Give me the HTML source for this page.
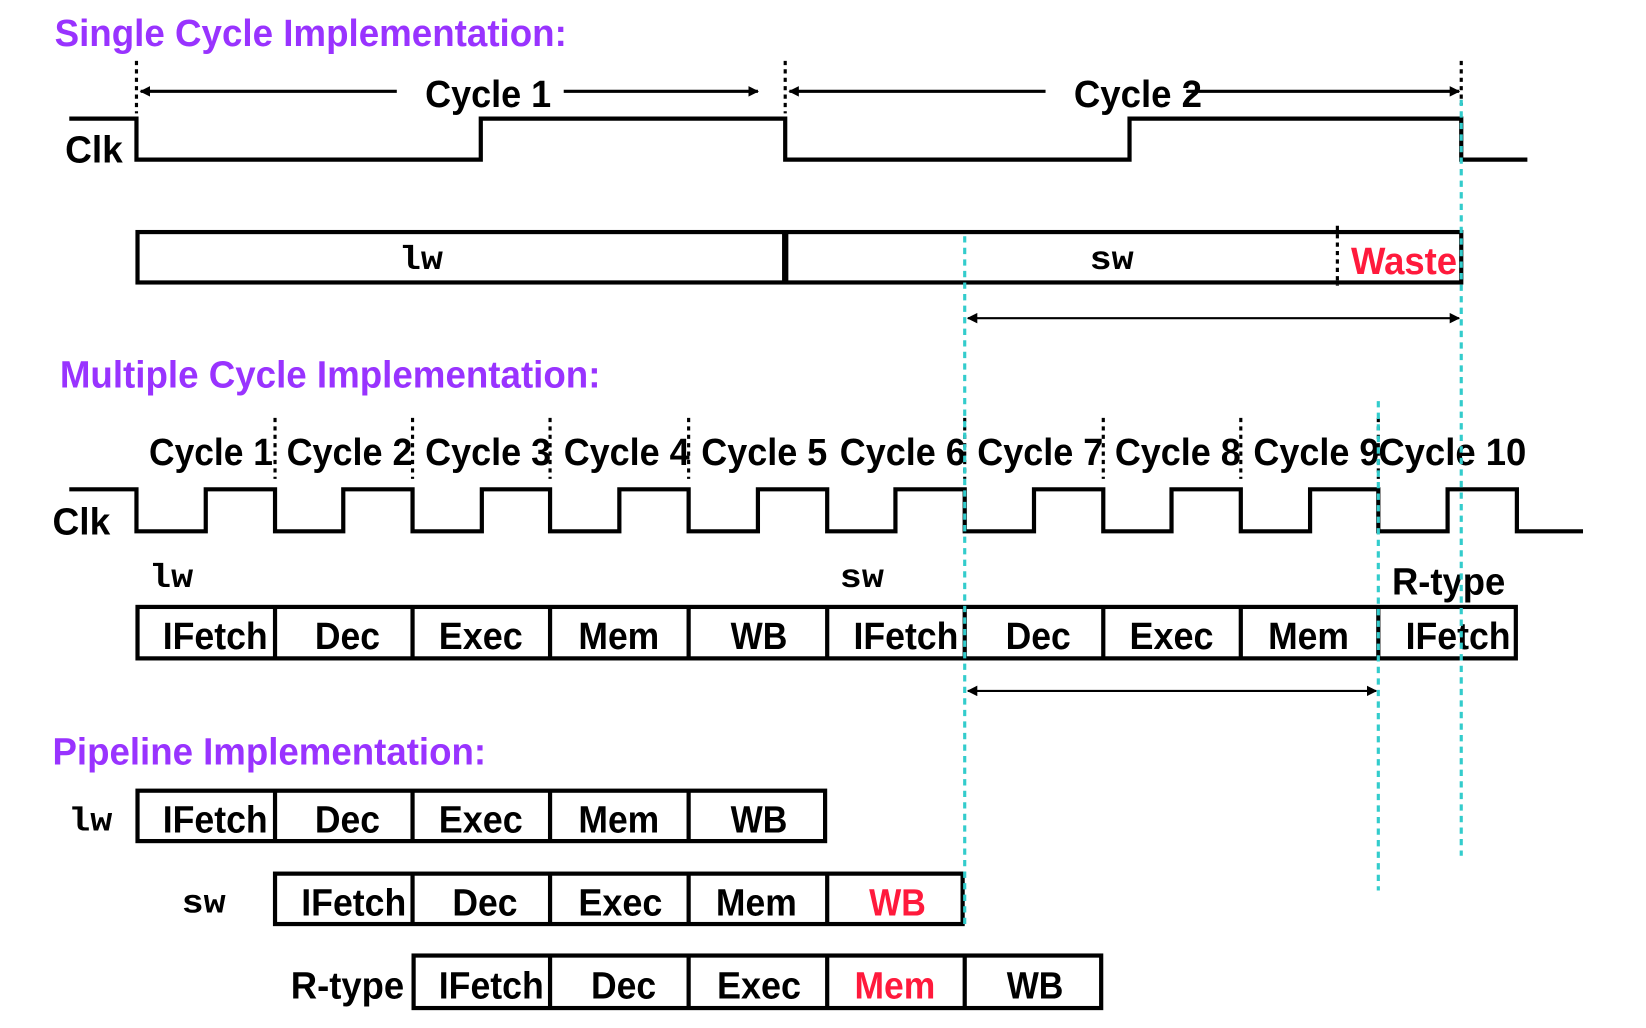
<!DOCTYPE html>
<html><head><meta charset="utf-8"><style>
html,body{margin:0;padding:0;background:#fff;}
svg{display:block;}
.t{font-family:"Liberation Sans",sans-serif;font-weight:bold;}
.m{font-family:"Liberation Mono",monospace;font-weight:bold;}
</style></head><body>
<svg width="1646" height="1028" viewBox="0 0 1568 979" preserveAspectRatio="none" xmlns="http://www.w3.org/2000/svg">
<defs>
<marker id="ah" markerWidth="10" markerHeight="10" refX="9" refY="5" orient="auto-start-reverse" markerUnits="userSpaceOnUse"><path d="M0,0 L10,5 L0,10 Z" fill="#000"/></marker>
</defs>
<g fill="#9933ff" class="t" font-size="36">
<text x="52" y="44" textLength="488" lengthAdjust="spacingAndGlyphs">Single Cycle Implementation:</text>
<text x="57" y="369" textLength="515" lengthAdjust="spacingAndGlyphs">Multiple Cycle Implementation:</text>
<text x="50" y="728" textLength="413" lengthAdjust="spacingAndGlyphs">Pipeline Implementation:</text>
</g>
<g stroke="#000" stroke-width="3" stroke-dasharray="4,4">
<line x1="130" y1="58" x2="130" y2="108"/><line x1="748" y1="58" x2="748" y2="108"/><line x1="1392" y1="58" x2="1392" y2="100"/>
</g>
<g stroke="#000" stroke-width="3">
<line x1="134" y1="87" x2="378" y2="87" marker-start="url(#ah)"/>
<line x1="537" y1="87" x2="722" y2="87" marker-end="url(#ah)"/>
<line x1="752" y1="87" x2="996" y2="87" marker-start="url(#ah)"/>
<line x1="1130" y1="87" x2="1390" y2="87" marker-end="url(#ah)"/>
</g>
<g class="t" font-size="36" fill="#000">
<text x="405" y="102" textLength="120" lengthAdjust="spacingAndGlyphs">Cycle 1</text>
<text x="1023" y="102" textLength="122" lengthAdjust="spacingAndGlyphs">Cycle 2</text>
<text x="62" y="155" textLength="55" lengthAdjust="spacingAndGlyphs">Clk</text>
</g>
<polyline fill="none" stroke="#000" stroke-width="4" points="66,113 130,113 130,152 458,152 458,113 748,113 748,152 1076,152 1076,113 1392,113 1392,152 1455,152"/>
<rect x="131" y="221" width="1261" height="48" fill="none" stroke="#000" stroke-width="4"/>
<line x1="748" y1="221" x2="748" y2="269" stroke="#000" stroke-width="6"/>
<line x1="1274" y1="215" x2="1274" y2="272" stroke="#000" stroke-width="3" stroke-dasharray="4,4"/>
<text class="m" x="380" y="256" font-size="32" textLength="42" lengthAdjust="spacingAndGlyphs">lw</text>
<text class="m" x="1038" y="256" font-size="32" textLength="42" lengthAdjust="spacingAndGlyphs">sw</text>
<text class="t" x="1287" y="261" font-size="36" fill="#ff1a3c" textLength="101" lengthAdjust="spacingAndGlyphs">Waste</text>
<line x1="922" y1="303" x2="1390" y2="303" stroke="#000" stroke-width="2" marker-start="url(#ah)" marker-end="url(#ah)"/>
<g class="t" font-size="36" fill="#000">
<text x="142" y="443" textLength="118" lengthAdjust="spacingAndGlyphs">Cycle 1</text>
<text x="273" y="443" textLength="120" lengthAdjust="spacingAndGlyphs">Cycle 2</text>
<text x="405" y="443" textLength="120" lengthAdjust="spacingAndGlyphs">Cycle 3</text>
<text x="537" y="443" textLength="120" lengthAdjust="spacingAndGlyphs">Cycle 4</text>
<text x="668" y="443" textLength="120" lengthAdjust="spacingAndGlyphs">Cycle 5</text>
<text x="800" y="443" textLength="120" lengthAdjust="spacingAndGlyphs">Cycle 6</text>
<text x="931" y="443" textLength="120" lengthAdjust="spacingAndGlyphs">Cycle 7</text>
<text x="1062" y="443" textLength="120" lengthAdjust="spacingAndGlyphs">Cycle 8</text>
<text x="1194" y="443" textLength="120" lengthAdjust="spacingAndGlyphs">Cycle 9</text>
<text x="1313" y="443" textLength="141" lengthAdjust="spacingAndGlyphs">Cycle 10</text>
<text x="50" y="509" textLength="55" lengthAdjust="spacingAndGlyphs">Clk</text>
<text x="1326" y="566" textLength="108" lengthAdjust="spacingAndGlyphs">R-type</text>
</g>
<g stroke="#000" stroke-width="3" stroke-dasharray="4,4">
<line x1="262" y1="398" x2="262" y2="456"/><line x1="393" y1="398" x2="393" y2="456"/><line x1="524" y1="398" x2="524" y2="456"/><line x1="656" y1="398" x2="656" y2="456"/><line x1="919" y1="398" x2="919" y2="456"/><line x1="1051" y1="398" x2="1051" y2="456"/><line x1="1182" y1="398" x2="1182" y2="456"/><line x1="1313" y1="398" x2="1313" y2="456"/>
</g>
<polyline fill="none" stroke="#000" stroke-width="4" points="66,466 130,466 130,506 196,506 196,466 262,466 262,506 327,506 327,466 393,466 393,506 459,506 459,466 524,466 524,506 590,506 590,466 656,466 656,506 722,506 722,466 788,466 788,506 853,506 853,466 919,466 919,506 985,506 985,466 1051,466 1051,506 1116,506 1116,466 1182,466 1182,506 1248,506 1248,466 1313,466 1313,506 1379,506 1379,466 1445,466 1445,506 1508,506"/>
<text class="m" x="142" y="559" font-size="32" textLength="42" lengthAdjust="spacingAndGlyphs">lw</text>
<text class="m" x="800" y="559" font-size="32" textLength="42" lengthAdjust="spacingAndGlyphs">sw</text>
<g fill="none" stroke="#000" stroke-width="4">
<rect x="131" y="578" width="1313" height="49"/>
<path d="M262,578V627M393,578V627M524,578V627M656,578V627M788,578V627M919,578V627M1051,578V627M1182,578V627M1313,578V627"/>
<rect x="131" y="753" width="655" height="48"/>
<path d="M262,753V801M393,753V801M524,753V801M656,753V801"/>
<rect x="262" y="832" width="655" height="48"/>
<path d="M393,832V880M524,832V880M656,832V880M788,832V880"/>
<rect x="394" y="910" width="655" height="50"/>
<path d="M524,910V960M656,910V960M788,910V960M919,910V960"/>
</g>
<g class="t" font-size="36" fill="#000">
<text x="155" y="618" textLength="100" lengthAdjust="spacingAndGlyphs">IFetch</text><text x="300" y="618" textLength="62" lengthAdjust="spacingAndGlyphs">Dec</text><text x="418" y="618" textLength="80" lengthAdjust="spacingAndGlyphs">Exec</text><text x="551" y="618" textLength="77" lengthAdjust="spacingAndGlyphs">Mem</text><text x="696" y="618" textLength="54" lengthAdjust="spacingAndGlyphs">WB</text><text x="813" y="618" textLength="100" lengthAdjust="spacingAndGlyphs">IFetch</text><text x="958" y="618" textLength="62" lengthAdjust="spacingAndGlyphs">Dec</text><text x="1076" y="618" textLength="80" lengthAdjust="spacingAndGlyphs">Exec</text><text x="1208" y="618" textLength="77" lengthAdjust="spacingAndGlyphs">Mem</text><text x="1339" y="618" textLength="100" lengthAdjust="spacingAndGlyphs">IFetch</text>
<text x="155" y="793" textLength="100" lengthAdjust="spacingAndGlyphs">IFetch</text><text x="300" y="793" textLength="62" lengthAdjust="spacingAndGlyphs">Dec</text><text x="418" y="793" textLength="80" lengthAdjust="spacingAndGlyphs">Exec</text><text x="551" y="793" textLength="77" lengthAdjust="spacingAndGlyphs">Mem</text><text x="696" y="793" textLength="54" lengthAdjust="spacingAndGlyphs">WB</text>
<text x="287" y="872" textLength="100" lengthAdjust="spacingAndGlyphs">IFetch</text><text x="431" y="872" textLength="62" lengthAdjust="spacingAndGlyphs">Dec</text><text x="551" y="872" textLength="80" lengthAdjust="spacingAndGlyphs">Exec</text><text x="682" y="872" textLength="77" lengthAdjust="spacingAndGlyphs">Mem</text><text x="828" y="872" textLength="54" lengthAdjust="spacingAndGlyphs" fill="#ff1a3c">WB</text>
<text x="418" y="951" textLength="100" lengthAdjust="spacingAndGlyphs">IFetch</text><text x="563" y="951" textLength="62" lengthAdjust="spacingAndGlyphs">Dec</text><text x="683" y="951" textLength="80" lengthAdjust="spacingAndGlyphs">Exec</text><text x="814" y="951" textLength="77" lengthAdjust="spacingAndGlyphs" fill="#ff1a3c">Mem</text><text x="959" y="951" textLength="54" lengthAdjust="spacingAndGlyphs">WB</text>
<text x="277" y="951" textLength="108" lengthAdjust="spacingAndGlyphs">R-type</text>
</g>
<text class="m" x="65" y="791" font-size="32" textLength="42" lengthAdjust="spacingAndGlyphs">lw</text>
<text class="m" x="173" y="869" font-size="32" textLength="42" lengthAdjust="spacingAndGlyphs">sw</text>
<line x1="922" y1="658" x2="1311" y2="658" stroke="#000" stroke-width="2" marker-start="url(#ah)" marker-end="url(#ah)"/>
<g stroke="#33cccc" stroke-width="3" stroke-dasharray="6,5">
<line x1="919" y1="225" x2="919" y2="880"/>
<line x1="1392" y1="95" x2="1392" y2="815"/>
<line x1="1313" y1="382" x2="1313" y2="848"/>
</g>
</svg>
</body></html>
